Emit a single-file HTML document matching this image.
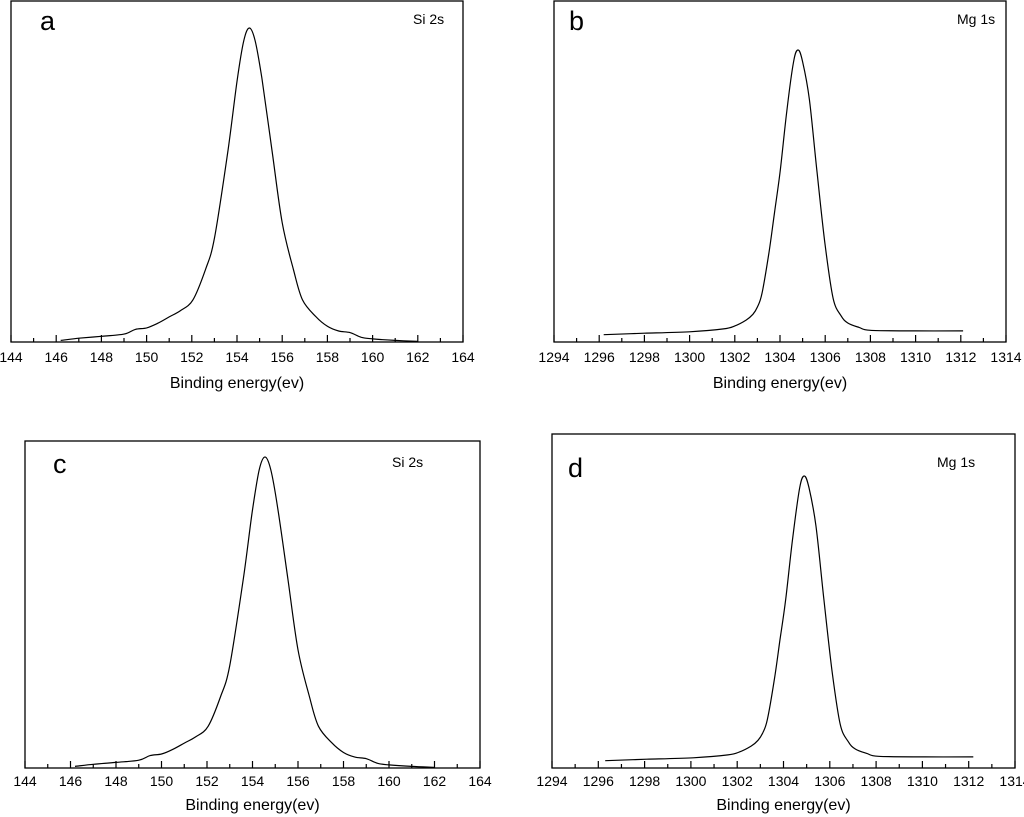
<!DOCTYPE html>
<html><head><meta charset="utf-8">
<style>
html,body{margin:0;padding:0;background:#fff;}
svg{display:block;font-family:"Liberation Sans",sans-serif;}
</style></head>
<body>
<svg id="fig" width="1024" height="817" viewBox="0 0 1024 817" xmlns="http://www.w3.org/2000/svg"></svg>
<script>
const siX = [146.2,147,148,149,149.5,150,150.5,151,151.5,152.05,152.6,153,153.6,154,154.3,154.55,154.8,155.1,155.55,156,156.5,156.9,157.5,158,158.5,159,159.5,160,161,162];
const siV = [0.005,0.012,0.018,0.025,0.04,0.045,0.06,0.08,0.10,0.134,0.23,0.33,0.61,0.83,0.96,1.0,0.96,0.84,0.61,0.38,0.23,0.134,0.08,0.05,0.035,0.03,0.015,0.01,0.005,0.002];
const mgX = [1296.2,1298,1300,1301.5,1302,1302.5,1302.8,1303,1303.2,1303.5,1303.75,1304,1304.3,1304.6,1304.8,1305,1305.3,1305.64,1306,1306.35,1306.7,1307,1307.5,1308,1310,1312.1];
const mgV = [0.025,0.03,0.035,0.045,0.055,0.075,0.095,0.12,0.165,0.30,0.44,0.58,0.79,0.96,1.0,0.96,0.83,0.58,0.33,0.15,0.09,0.065,0.05,0.04,0.038,0.038];
const siTicks = [144,146,148,150,152,154,156,158,160,162,164];
const mgTicks = [1294,1296,1298,1300,1302,1304,1306,1308,1310,1312,1314];

const panels = [
 {id:'a', x0:11, x1:463, top:1, bot:342, dmin:144, dmax:164, ticks:siTicks, xs:siX, vs:siV, shift:0, scale:314, lx:40, ly:30, tag:'Si 2s', tx:413, ty:24, tlOff:20, ttOff:46},
 {id:'b', x0:554, x1:1006, top:1, bot:342, dmin:1294, dmax:1314, ticks:mgTicks, xs:mgX, vs:mgV, shift:0, scale:292, lx:569, ly:30, tag:'Mg 1s', tx:957, ty:24, tlOff:20, ttOff:46},
 {id:'c', x0:25, x1:480, top:441, bot:768, dmin:144, dmax:164, ticks:siTicks, xs:siX, vs:siV, shift:0, scale:311, lx:53, ly:473, tag:'Si 2s', tx:392, ty:467, tlOff:18, ttOff:42},
 {id:'d', x0:552, x1:1015, top:434, bot:768, dmin:1294, dmax:1314, ticks:mgTicks, xs:mgX, vs:mgV, shift:0.1, scale:292, lx:568, ly:477, tag:'Mg 1s', tx:937, ty:467, tlOff:18, ttOff:42}
];
const svg = document.getElementById('fig');
const NS = 'http://www.w3.org/2000/svg';
function mk(tag, attrs, parent){const e=document.createElementNS(NS,tag);for(const k in attrs)e.setAttribute(k,attrs[k]);(parent||svg).appendChild(e);return e;}
function smooth(pts){
  let d='M'+pts[0][0].toFixed(1)+','+pts[0][1].toFixed(1);
  for(let i=0;i<pts.length-1;i++){
    const p0=pts[Math.max(0,i-1)],p1=pts[i],p2=pts[i+1],p3=pts[Math.min(pts.length-1,i+2)];
    const c1=[p1[0]+(p2[0]-p0[0])/6,p1[1]+(p2[1]-p0[1])/6];
    const c2=[p2[0]-(p3[0]-p1[0])/6,p2[1]-(p3[1]-p1[1])/6];
    d+='C'+c1[0].toFixed(1)+','+c1[1].toFixed(1)+' '+c2[0].toFixed(1)+','+c2[1].toFixed(1)+' '+p2[0].toFixed(1)+','+p2[1].toFixed(1);
  }
  return d;
}

panels.forEach(p=>{
  const g = mk('g',{});
  
  
  const sx = v => p.x0 + (v-p.dmin)/(p.dmax-p.dmin)*(p.x1-p.x0);
  const sy = v => p.bot - v*p.scale;
  const fr = mk('rect',{x:p.x0,y:p.top,width:p.x1-p.x0,height:p.bot-p.top,fill:'none',stroke:'#000','stroke-width':1.3},g);
  
  
  for(let t=p.dmin;t<=p.dmax;t+=1){
    const major = (t-p.dmin)%2===0;
    const tk = mk('line',{x1:sx(t),x2:sx(t),y1:p.bot,y2:p.bot-(major?7:4),stroke:'#000','stroke-width':1.2},g);
    
    
  }
  p.ticks.forEach(t=>{
    const tl = mk('text',{x:sx(t),y:p.bot+p.tlOff,'font-size':14,'text-anchor':'middle',fill:'#000'},g);
    tl.textContent = t;
    
    
  });
  const xt = mk('text',{x:(p.x0+p.x1)/2,y:p.bot+p.ttOff,'font-size':16,'text-anchor':'middle',fill:'#000'},g);
  xt.textContent='Binding energy(ev)';
  
  
  const pl = mk('text',{x:p.lx,y:p.ly,'font-size':27,fill:'#000'},g);
  pl.textContent=p.id;
  
  
  const tg = mk('text',{x:p.tx,y:p.ty,'font-size':14,fill:'#000'},g);
  tg.textContent=p.tag;
  
  
  const pts = p.xs.map((x,i)=>[sx(x+p.shift), sy(p.vs[i])]);
  const path = mk('path',{d:smooth(pts),fill:'none',stroke:'#000','stroke-width':1.2,'stroke-linejoin':'round'},g);
  
  
});
</script>
</body></html>
